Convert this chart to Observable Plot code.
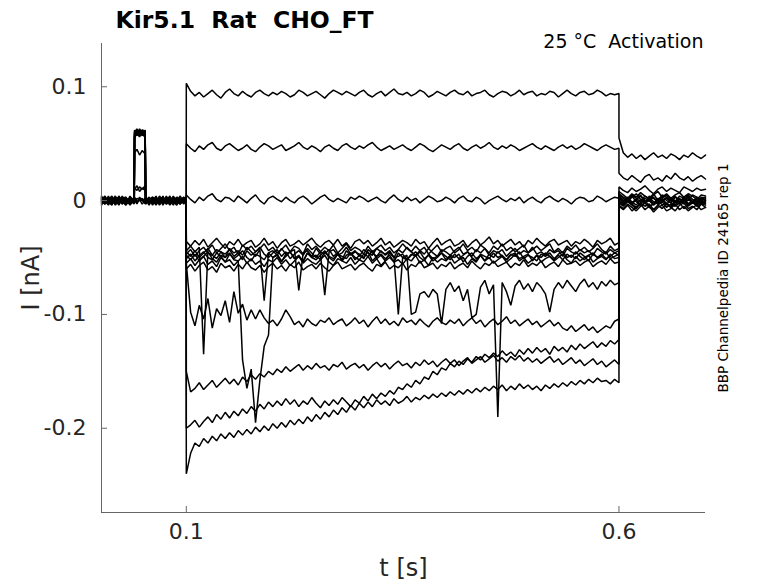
<!DOCTYPE html>
<html><head><meta charset="utf-8">
<script src="https://cdn.jsdelivr.net/npm/d3@7"></script>
<script src="https://cdn.jsdelivr.net/npm/@observablehq/plot@0.6"></script>
<style>
body{margin:0;background:#fff}
#chart svg{display:block}
svg text{white-space:pre}
</style>
</head><body><div id="chart"></div>
<script>
// axes
const xDomain = [0.002, 0.7];
const yDomain = [-0.274, 0.138];
const xTicks = [0.1, 0.6];
const yTicks = [-0.2, -0.1, 0, 0.1];
const stepRange = [0.1, 0.6];   // s, voltage step
const tailRange = [0.6, 0.7];   // s, after step
// sample times before the step (s)
const tBase = [0.002,0.006,0.010,0.014,0.018,0.022,0.026,0.030,0.035,0.0398,0.0402,0.043,0.046,0.049,0.0525,0.053,0.057,0.061,0.065,0.069,0.073,0.077,0.081,0.085,0.089,0.093,0.097,0.0999];
const traceIds = ["T1","T2","T3","C1","C2","C3","C4","C5","C6","F","G","A","B","C","D"];

// currents in pA
const base_T1 = [2,-3,1,4,-2,0,3,-4,1,0,61,58,63,59,60,2,-3,1,-2,4,0,-3,2,-1,3,-2,1,0];
const base_T2 = [-1,3,-2,0,4,-3,1,-2,2,-1,58,62,57,60,59,-3,2,0,-4,1,3,-1,-3,2,0,4,-2,1];
const base_T3 = [3,0,-4,2,-1,3,-3,0,2,1,55,59,56,61,57,0,-2,3,1,-3,2,0,4,-2,-1,2,-3,0];
const base_C1 = [0,-2,3,-1,1,-4,2,3,-2,0,60,63,59,62,61,-1,3,-2,0,2,-4,1,-1,3,-2,0,2,-1];
const base_C2 = [-3,1,0,3,-2,2,-1,-3,4,-2,57,60,62,58,56,2,0,-3,3,-1,1,-2,0,-4,3,1,-1,2];
const base_C3 = [1,4,-1,-3,0,2,-2,1,-1,3,42,45,40,44,41,1,-4,2,-1,0,3,-3,1,2,-1,-3,2,0];
const base_C4 = [-2,0,2,1,-4,0,3,-1,0,-3,11,9,12,10,13,-2,1,-1,4,-3,0,2,-2,1,0,-3,3,-2];
const base_C5 = [4,-1,-3,0,2,-2,0,2,-4,1,10,13,8,11,9,3,-1,0,-2,2,-1,4,-3,0,1,-2,0,3];
const base_C6 = [0,2,-1,-4,3,1,-3,0,2,-1,1,-3,2,0,-2,0,3,-4,1,-1,2,-2,3,0,-3,1,-1,-2];
const base_F  = [-1,-3,2,0,-2,4,0,-2,3,0,59,61,60,57,62,-2,1,3,-3,0,-1,2,-2,4,-1,0,3,-3];
const base_G  = [2,1,-2,3,0,-3,4,-1,-3,2,62,57,61,59,58,1,-2,0,2,-4,1,-1,0,-2,2,-3,1,2];
const base_A  = [-4,2,0,-1,3,-2,1,2,0,-2,56,60,58,62,57,0,2,-1,-3,3,-2,0,1,-1,-4,2,0,-1];
const base_B  = [1,-2,4,-3,1,0,-1,3,-2,2,3,-1,0,2,-3,-1,0,2,-1,-2,4,-3,0,3,1,-1,-2,1];
const base_C  = [-2,3,-1,1,-3,2,0,-4,1,-1,-2,2,1,-3,0,3,-2,1,0,3,-2,1,-4,0,2,-1,3,-2];
const base_D  = [3,-1,-2,2,0,-3,1,0,-1,2,1,-2,3,0,2,-3,1,-1,2,0,-2,3,0,-1,-3,2,-1,1];

const step_T1 = [103,96,92,95,91,94,97,93,90,95,98,94,92,96,93,91,95,97,94,92,95,93,96,94,91,93,97,95,92,94,96,93,90,94,97,95,93,96,94,92,95,97,93,91,94,96,92,95,98,94,93,95,92,94,97,95,91,93,96,94,92,95,97,94,93,96,92,94,95,97,93,91,94,96,95,92,94,97,93,95,96,92,94,93,96,95,91,94,97,94,92,95,96,93,94,97,95,92,94,93,94];
const step_T2 = [50,46,43,48,45,49,51,46,44,48,50,47,44,46,49,45,43,47,50,48,45,47,49,44,46,48,51,47,45,48,46,43,47,49,46,44,48,50,47,45,48,46,49,51,47,44,46,48,45,47,49,46,44,47,50,48,45,43,46,49,47,45,48,50,46,44,47,49,46,48,51,47,45,48,46,49,47,44,46,48,50,47,45,48,46,44,47,49,46,48,45,47,50,48,46,44,47,49,47,45,46];
const step_T3 = [5,1,-2,3,0,4,6,1,-1,3,2,-1,4,1,-2,2,5,0,-3,2,4,1,-1,3,0,-2,2,4,1,-3,0,3,5,1,-1,2,0,-2,3,1,4,2,-1,1,3,0,-2,2,5,1,-1,3,0,2,-2,1,4,2,-1,0,3,1,-2,2,4,0,-1,3,1,-3,0,2,4,1,-1,2,0,3,-2,1,3,0,-2,2,4,1,-1,2,0,-3,1,3,2,-1,0,4,2,-1,1,3,2];
const step_C1 = [-36,-40,-35,-39,-34,-41,-37,-33,-38,-42,-36,-39,-34,-40,-37,-35,-41,-38,-33,-39,-36,-42,-37,-34,-40,-38,-35,-39,-36,-33,-38,-41,-37,-35,-39,-34,-40,-37,-42,-36,-34,-38,-35,-40,-37,-33,-39,-36,-41,-38,-35,-37,-40,-34,-38,-36,-42,-37,-33,-39,-36,-34,-40,-38,-35,-41,-37,-34,-39,-36,-32,-38,-35,-40,-37,-34,-39,-36,-41,-35,-38,-33,-37,-40,-36,-34,-39,-37,-35,-40,-36,-38,-34,-37,-41,-35,-38,-36,-33,-39,-37];
const step_C2 = [-44,-40,-45,-41,-135,-43,-39,-46,-42,-38,-44,-41,-47,-39,-43,-40,-45,-42,-38,-44,-41,-46,-43,-39,-45,-40,-42,-47,-38,-43,-40,-45,-41,-44,-39,-46,-42,-38,-44,-41,-43,-47,-40,-45,-42,-39,-44,-41,-46,-43,-38,-42,-45,-40,-44,-41,-47,-43,-39,-45,-42,-40,-46,-43,-38,-44,-41,-45,-39,-42,-46,-40,-43,-38,-44,-41,-45,-42,-39,-46,-43,-40,-44,-41,-38,-45,-42,-46,-40,-43,-39,-44,-41,-45,-42,-38,-43,-46,-40,-44,-42];
const step_C3 = [-47,-43,-49,-44,-41,-46,-48,-43,-45,-50,-42,-46,-44,-48,-41,-45,-49,-43,-88,-46,-44,-48,-42,-47,-45,-43,-79,-46,-44,-49,-42,-47,-83,-45,-43,-48,-46,-41,-47,-44,-49,-43,-46,-48,-42,-45,-47,-44,-50,-43,-46,-41,-45,-48,-44,-47,-42,-46,-49,-43,-45,-48,-44,-41,-47,-45,-49,-43,-46,-42,-48,-44,-46,-43,-49,-45,-42,-47,-44,-46,-41,-47,-45,-48,-43,-46,-44,-49,-42,-45,-47,-43,-46,-44,-48,-42,-45,-47,-43,-46,-44];
const step_C4 = [-51,-47,-53,-48,-45,-50,-52,-46,-49,-54,-47,-51,-48,-44,-50,-53,-47,-49,-52,-46,-50,-48,-54,-47,-45,-51,-49,-53,-46,-50,-48,-52,-45,-49,-51,-47,-53,-48,-46,-50,-52,-47,-49,-44,-51,-48,-53,-46,-50,-49,-47,-52,-48,-45,-50,-53,-47,-51,-49,-46,-52,-48,-50,-47,-54,-49,-46,-51,-48,-53,-47,-50,-45,-49,-52,-48,-46,-51,-49,-47,-53,-48,-50,-46,-49,-52,-47,-45,-50,-48,-51,-46,-49,-53,-47,-50,-48,-45,-51,-49,-47];
const step_C5 = [-55,-51,-57,-52,-49,-56,-53,-58,-50,-54,-52,-57,-53,-49,-55,-51,-56,-53,-58,-52,-54,-50,-56,-52,-57,-53,-49,-55,-51,-54,-56,-52,-48,-54,-57,-51,-53,-55,-50,-56,-52,-54,-49,-55,-51,-57,-53,-50,-54,-52,-56,-51,-53,-48,-55,-52,-57,-50,-54,-51,-53,-49,-55,-52,-50,-56,-51,-54,-48,-53,-50,-55,-52,-49,-54,-51,-47,-53,-50,-55,-52,-48,-54,-51,-49,-53,-50,-47,-52,-55,-49,-53,-50,-48,-54,-51,-49,-52,-47,-51,-50];
const step_C6 = [-60,-56,-62,-57,-54,-61,-58,-63,-55,-59,-57,-62,-56,-60,-54,-59,-61,-57,-63,-58,-55,-60,-57,-62,-56,-59,-54,-61,-58,-56,-60,-55,-59,-62,-57,-54,-60,-58,-56,-61,-57,-55,-59,-62,-56,-58,-54,-60,-57,-59,-55,-61,-56,-58,-53,-59,-57,-55,-60,-56,-58,-54,-60,-57,-55,-59,-53,-57,-60,-55,-57,-53,-58,-56,-54,-59,-55,-57,-52,-58,-55,-57,-53,-59,-56,-54,-58,-52,-56,-55,-53,-57,-54,-52,-58,-55,-53,-56,-51,-55,-54];
const step_F  = [-45,-49,-44,-50,-46,-42,-48,-51,-45,-47,-43,-49,-46,-52,-44,-48,-45,-41,-47,-50,-46,-43,-49,-45,-51,-47,-44,-48,-42,-46,-50,-45,-47,-43,-49,-46,-52,-44,-48,-45,-47,-51,-43,-46,-49,-44,-48,-45,-50,-100,-50,-48,-100,-98,-82,-80,-85,-78,-82,-108,-78,-72,-80,-75,-88,-78,-103,-100,-76,-70,-82,-74,-190,-72,-80,-92,-75,-70,-78,-73,-80,-72,-76,-82,-98,-78,-72,-77,-70,-75,-80,-73,-69,-76,-72,-78,-71,-75,-70,-74,-72];
const step_G  = [-48,-52,-47,-53,-49,-45,-51,-54,-48,-50,-46,-52,-53,-140,-165,-148,-195,-158,-128,-118,-50,-47,-53,-49,-45,-51,-48,-54,-46,-50,-52,-48,-44,-50,-53,-47,-49,-51,-46,-52,-48,-50,-45,-53,-49,-47,-51,-48,-54,-46,-50,-52,-47,-49,-45,-51,-48,-53,-50,-46,-49,-52,-47,-51,-48,-45,-50,-53,-47,-49,-51,-46,-50,-48,-52,-47,-49,-45,-51,-48,-50,-53,-47,-49,-46,-51,-48,-52,-47,-50,-45,-49,-52,-48,-46,-50,-47,-51,-49,-46,-48];
const step_A  = [-55,-98,-110,-92,-104,-86,-112,-95,-101,-88,-107,-80,-99,-91,-105,-96,-104,-96,-103,-108,-105,-110,-104,-96,-102,-109,-106,-111,-104,-108,-110,-105,-107,-103,-109,-106,-104,-110,-107,-103,-108,-105,-111,-106,-102,-108,-104,-109,-106,-110,-103,-107,-105,-109,-104,-108,-111,-106,-103,-107,-109,-105,-108,-104,-110,-106,-103,-108,-105,-111,-107,-104,-109,-106,-102,-108,-105,-110,-107,-104,-109,-106,-111,-108,-105,-110,-107,-112,-114,-110,-115,-112,-109,-114,-111,-116,-113,-110,-112,-106,-104];
const step_B  = [-150,-168,-165,-160,-166,-162,-158,-164,-160,-156,-161,-157,-162,-155,-159,-153,-157,-152,-155,-150,-153,-148,-151,-146,-150,-147,-144,-149,-145,-148,-143,-147,-145,-149,-144,-146,-142,-148,-145,-143,-147,-144,-149,-145,-142,-146,-143,-148,-144,-141,-145,-143,-147,-142,-145,-140,-144,-141,-146,-142,-139,-143,-140,-145,-141,-138,-143,-140,-137,-142,-139,-136,-141,-138,-142,-137,-140,-136,-141,-138,-142,-139,-143,-140,-137,-142,-139,-144,-141,-138,-143,-140,-145,-142,-139,-144,-141,-146,-143,-140,-144];
const step_C  = [-200,-197,-193,-199,-194,-190,-195,-188,-192,-186,-191,-185,-189,-183,-187,-181,-185,-179,-183,-177,-181,-176,-180,-174,-179,-175,-181,-176,-179,-173,-178,-182,-176,-180,-175,-179,-173,-177,-181,-175,-178,-172,-176,-170,-174,-169,-172,-167,-170,-164,-166,-161,-164,-158,-161,-155,-157,-150,-153,-147,-149,-143,-146,-141,-144,-139,-142,-137,-140,-135,-138,-134,-137,-132,-136,-133,-137,-131,-135,-130,-134,-129,-133,-130,-135,-128,-132,-129,-133,-127,-131,-126,-130,-127,-124,-129,-125,-128,-123,-126,-122];
const step_D  = [-240,-222,-213,-216,-209,-213,-207,-211,-205,-209,-204,-208,-202,-206,-201,-205,-199,-203,-198,-202,-196,-200,-195,-199,-193,-197,-192,-196,-190,-194,-188,-192,-186,-190,-184,-188,-182,-186,-180,-184,-178,-182,-177,-181,-175,-179,-176,-180,-174,-178,-176,-172,-177,-173,-175,-171,-174,-170,-173,-169,-172,-168,-171,-167,-170,-166,-169,-165,-168,-164,-167,-163,-166,-162,-167,-163,-166,-161,-165,-162,-166,-163,-167,-162,-165,-161,-164,-160,-163,-159,-162,-158,-161,-157,-160,-156,-159,-158,-161,-157,-160];

const tail_T1 = [55,42,38,41,37,40,36,39,42,38,40,37,41,39,36,40,38,42,39,37,40];
const tail_T2 = [24,20,18,22,19,16,21,23,18,20,17,22,19,24,20,18,21,17,20,22,19];
const tail_T3 = [12,9,7,11,8,10,13,9,6,10,12,8,11,9,7,12,10,8,11,9,10];
const tail_C1 = [8,5,2,6,3,7,4,1,5,8,3,6,2,5,7,3,6,4,1,5,4];
const tail_C2 = [5,2,-1,3,6,1,-2,4,2,-1,5,3,0,4,-2,2,5,1,-1,3,2];
const tail_C3 = [4,0,3,-2,1,5,-1,2,-3,1,4,0,-2,3,1,-1,4,-2,2,0,1];
const tail_C4 = [2,-2,1,4,-1,-3,2,0,3,-2,1,-4,2,0,-1,3,-3,1,-2,2,0];
const tail_C5 = [0,-3,2,-1,-4,1,-2,3,-1,-3,0,2,-2,-4,1,-1,3,-2,0,-3,-1];
const tail_C6 = [-1,-4,0,-3,1,-5,-2,0,-4,-1,2,-3,-5,0,-2,1,-4,-1,-3,0,-2];
const tail_F  = [6,3,1,5,2,-1,4,2,6,0,3,5,1,-1,4,2,0,5,3,1,3];
const tail_G  = [3,-1,2,-2,1,4,-1,0,-3,2,-1,3,0,-2,2,-3,1,-1,3,-2,0];
const tail_A  = [-2,-5,-1,-4,-7,-2,-5,-3,-8,-4,-1,-6,-3,-5,-2,-7,-4,-1,-5,-3,-4];
const tail_B  = [-4,-7,-3,-6,-9,-5,-2,-6,-8,-4,-7,-3,-6,-9,-4,-2,-7,-5,-8,-3,-6];
const tail_C  = [-1,-4,1,-3,-6,-2,0,-5,-3,1,-4,-2,-6,-1,-3,0,-5,-2,-4,-1,-3];
const tail_D  = [-5,-8,-4,-9,-6,-3,-8,-5,-10,-6,-4,-9,-7,-3,-8,-5,-9,-6,-4,-8,-6];

const traceData = {
  T1:[base_T1,step_T1,tail_T1], T2:[base_T2,step_T2,tail_T2], T3:[base_T3,step_T3,tail_T3],
  C1:[base_C1,step_C1,tail_C1], C2:[base_C2,step_C2,tail_C2], C3:[base_C3,step_C3,tail_C3],
  C4:[base_C4,step_C4,tail_C4], C5:[base_C5,step_C5,tail_C5], C6:[base_C6,step_C6,tail_C6],
  F:[base_F,step_F,tail_F], G:[base_G,step_G,tail_G], A:[base_A,step_A,tail_A],
  B:[base_B,step_B,tail_B], C:[base_C,step_C,tail_C], D:[base_D,step_D,tail_D]
};

const rows = [];
for (const id of traceIds) {
  const [b, s, tl] = traceData[id];
  b.forEach((v, i) => { if (i < tBase.length) rows.push({id, t: tBase[i], v: v / 1000}); });
  s.forEach((v, i) => rows.push({id, t: stepRange[0] + (stepRange[1] - stepRange[0]) * i / (s.length - 1), v: v / 1000}));
  tl.forEach((v, i) => rows.push({id, t: tailRange[0] + (tailRange[1] - tailRange[0]) * i / (tl.length - 1), v: v / 1000}));
}

const axisColor = "#666";
const textColor = "#262626";
const fmt = d => String(d);

const chart = Plot.plot({
  width: 778, height: 583,
  marginLeft: 101, marginRight: 73, marginTop: 43, marginBottom: 71,
  style: {fontFamily: "DejaVu Sans", background: "#fff", color: textColor},
  x: {domain: xDomain, label: null},
  y: {domain: yDomain, label: null},
  marks: [
    Plot.line(rows, {x: "t", y: "v", z: "id", stroke: "#000", strokeWidth: 1.5, strokeLinejoin: "miter"}),
    Plot.ruleX([xDomain[0]], {stroke: axisColor, strokeWidth: 1}),
    Plot.ruleY([yDomain[0]], {stroke: axisColor, strokeWidth: 1}),
    Plot.axisY(yTicks, {tickSize: 6, dx: 6, stroke: axisColor, tickFormat: () => "", label: null}),
    Plot.axisY(yTicks, {tickSize: 0, tickPadding: 15, tickFormat: fmt, fontSize: 22, fill: textColor, label: null}),
    Plot.axisX(xTicks, {tickSize: 6, dy: -6, stroke: axisColor, tickFormat: () => "", label: null}),
    Plot.axisX(xTicks, {tickSize: 0, tickPadding: 11, tickFormat: fmt, fontSize: 22, fill: textColor, label: null}),
    Plot.text(["I [nA]"], {frameAnchor: "left", dx: -70, rotate: -90, fontSize: 24, fill: textColor, textAnchor: "middle", lineAnchor: "middle"}),
    Plot.text(["t [s]"], {frameAnchor: "bottom", dy: 56, fontSize: 24, fill: textColor, textAnchor: "middle", lineAnchor: "middle"}),
    Plot.text(["Kir5.1  Rat  CHO_FT"], {frameAnchor: "top-left", dx: 14, dy: -16, fontSize: 23.5, fontWeight: "bold", fill: "#000", textAnchor: "start", lineAnchor: "bottom"}),
    Plot.text(["25 °C  Activation"], {frameAnchor: "top-right", dx: -2, dy: 4, fontSize: 19, fill: "#000", textAnchor: "end", lineAnchor: "bottom"}),
    Plot.text(["BBP Channelpedia ID 24165 rep 1"], {frameAnchor: "right", dx: 18, rotate: -90, fontSize: 13.5, fill: "#000", textAnchor: "middle", lineAnchor: "middle"})
  ]
});
document.getElementById("chart").appendChild(chart);
</script>
</body></html>
